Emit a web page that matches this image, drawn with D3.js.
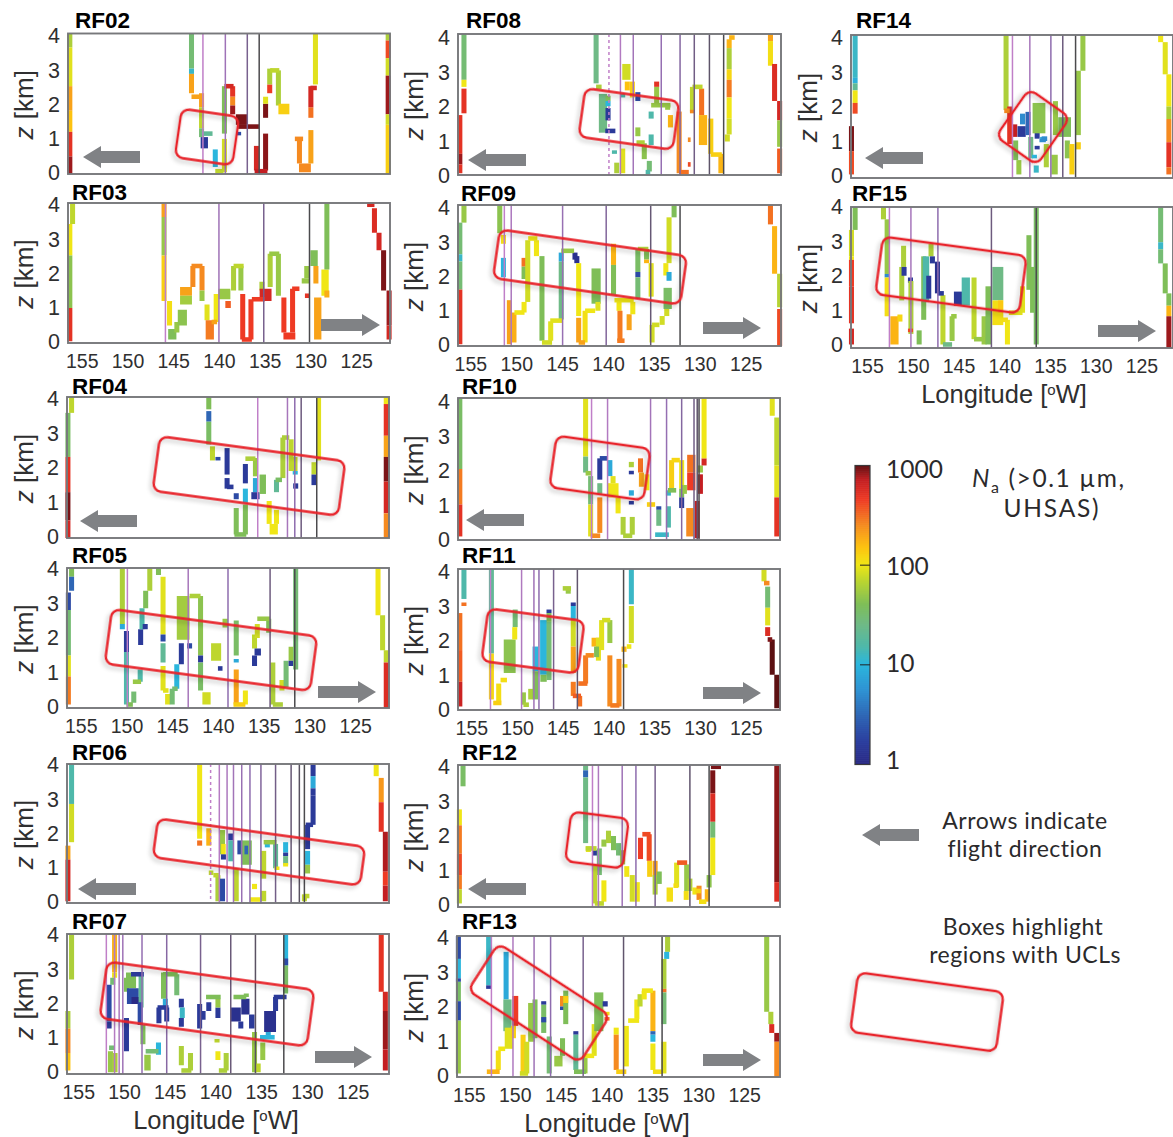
<!DOCTYPE html>
<html lang="en">
<head>
<meta charset="utf-8">
<title>UHSAS aerosol number, RF02-RF15</title>
<script src="https://d3js.org/d3.v7.min.js"></script>
<style>
body { margin: 0; background: #fff; }
text { font-family: "Liberation Sans", sans-serif; fill: #2f2f30; }
.legend-text { font-family: "Lato", sans-serif; fill: #2b2a2b; }
.tracks { filter: blur(0.45px); }
.box { fill: none; stroke: #e8232a; stroke-width: 2.4; filter: drop-shadow(-2px 3px 2px rgba(0,0,0,0.22)); }
</style>
</head>
<body>
<div id="chart"></div>
<script>
// vertical columns: [lon, zLo, zHi, Na, width in deg (optional)]
// horizontal legs:  [lonWest, lonEast, z, Na]
// sonde lines: longitudes of the vertical lines, west to east

var rf02Cols = [
    [156.3,3.6,4,60],[156.3,2.5,3.6,90],[156.3,1.8,2.5,200],[156.3,1.2,1.8,150],[156.3,.5,1.2,500],[156.3,0,.5,800],
    [143,3,4,30],[143,2.85,3,12],[143,2.3,2.85,200],
    [141.9,1.9,2.3,200],[141.9,1.3,1.9,70],[141.9,1.05,1.3,30],[141.6,.73,1.05,1.5,.8],
    [140.4,.2,.7,10],[139.4,.05,1,80],[139.4,1.15,2.5,40],
    [138.5,2.2,2.5,500],[138.5,1.95,2.2,250],[138.5,1.7,1.95,800],[137.5,1.4,1.7,900,1.3],[137.85,1.1,1.2,2],
    [135.9,.1,.8,600],[134.9,.1,1.15,850],[134.9,1.6,2,900],[134.9,2,2.2,90],
    [134.45,2.3,2.55,450],[134.45,2.55,3,60],[133.5,1.95,2.95,60],[132.9,1.7,2,130,1.2],
    [131.2,.3,1,250],[130.6,.05,.3,250,1.3],[129.95,.3,1.25,200],[129.95,1.6,1.9,300],[129.95,1.9,2.5,600],
    [129.45,2.55,4,90],
    [121.5,3.8,4,60],[121.5,3.3,3.8,400],[121.5,2.8,3.3,80],[121.5,1.7,2.8,800],[121.5,1.4,1.7,80],[121.5,0,1.4,130]
];
var rf02Rows = [
    [143,141.9,2.2,200],[141.9,140.7,1.15,20],[140.4,139.5,.08,70],[139.4,138.4,2.5,600],
    [137.9,135.6,1.35,900],[136.1,134.7,.08,700],[134.4,133.4,2.95,70],[131.7,130.8,1,250],[130,129.3,2.45,600]
];
var rf02Lines = [141.75,139.3,136.9,135.6];

var rf03Cols = [
    [156,3.4,4,70],[156.3,2.5,3.4,100],[156.3,1,2.5,45],[156.3,.05,1,500],
    [146,3.6,4,200],[146,2.5,3.6,50],[146,1.2,2.5,130],[145.4,.5,1.2,110],[145.1,.1,.4,40,.9],[144.6,.3,.6,50],
    [144,.5,.95,45,1],[143.6,1.35,1.6,200,1.3],[143.6,1.1,1.35,55,1.3],
    [142.85,1.6,2.2,250],[141.85,1.5,2.2,250],[141.85,1.2,1.5,50],[141.3,.65,1.1,90],[141,.1,.65,280,.9],
    [140.3,.6,1.4,100],[139.4,1.25,1.55,50,1.3],[139,1,1.2,350,.6],[138.4,1.5,2.2,60],[137.6,1.5,2.2,50],
    [137.4,.1,1.4,450],[136.5,.1,1.25,450],[135.3,1.5,1.75,60],[134.9,1.2,1.55,600,1.3],
    [134.4,1.6,2.55,60],[133.5,1.35,2.55,50],[132.9,.3,1.3,450],[132.3,.1,.3,450,1.3],[131.95,.3,1.55,450],
    [130.5,1.7,1.85,50,.9],[130.4,1.85,2.2,50],[129.6,2.2,2.65,40,.8],[129.4,1.7,2.2,200],[129.2,.1,1.3,200,.8],
    [128.4,1.35,2.1,100,.8],[128.2,1.3,1.5,180],[128.2,2.1,4,40],
    [123,3.15,3.85,550],[122.5,2.65,3.15,600],[122,1.5,2.65,900],[121.4,.5,1.5,800],[121.4,.1,.5,600]
];
var rf03Rows = [
    [123.8,123,3.95,600],[143,141.8,2.2,250],[140.8,140.2,.6,200],[138.4,137.3,2.2,70],[137.5,136.4,.1,450],
    [136.4,135,1.25,450],[134.5,133.4,2.55,50],[132,131.2,1.55,450],[130.6,130.1,1.35,500]
];
var rf03Lines = [145.85,140,135.1,130.1];

var rf04Cols = [
    [156,3.55,4,70],[156.4,2.3,3.55,35],[156.4,1.3,2.3,500],[156.4,.5,1.3,900],[156.4,0,.5,600],
    [141,3.65,4,40],[141,3.3,3.6,3],[141,2.65,3.3,35],[140.6,2.2,2.6,70],[140,2.2,2.3,2],
    [139,1.8,2.55,1.5],[139,1.4,1.7,1.5],[138,1.1,1.27,2],[138,.1,.85,40],
    [137,1.55,2.1,1.5],[137,1,1.4,10],[137,.1,.95,40],[135.9,1.75,2.27,50],[135.9,1.3,1.7,8],[135.9,1.1,1.3,1.5,.9],
    [135.1,1.25,1.8,40,.7],[134.4,.4,1.05,100],[133.9,.1,.4,100,.9],[133.6,.4,.8,100],[133.6,1.3,1.65,20],
    [132.9,1.7,2.85,60],[132,1.9,2.8,70],[131.7,1.9,2.3,70,.8],[131.55,1.8,1.9,10],[131.5,1.4,1.55,1.5],
    [129.5,1.8,2.15,70],[129.5,1.5,1.8,1.5],[129,2.2,4,90],
    [121.6,3.8,4,100],[121.6,2.9,3.8,500],[121.6,2.3,2.9,200],[121.6,1.6,2.3,900],[121.6,.7,1.6,600],[121.6,0,.7,250]
];
var rf04Rows = [
    [139,138.3,1.45,1.5],[138.2,136.9,.1,40],[137,135.9,2.25,60],[133.7,133,1.65,35],[133,132.2,2.85,60]
];
var rf04Lines = [135.65,132.4,131.6,130.9,129.2];

var rf05Cols = [
    [156,3.75,4,40],[156,3.35,3.75,3],[156.35,2.8,3.3,2],[156.35,1.5,2.8,30],[156.35,.9,1.5,90],[156.35,.1,.9,280],
    [150.45,2.4,4,60],[150.45,2.25,2.4,8],[150,1.6,2.2,1.5],[150,.1,1.6,15],[149.2,.15,.47,30],[148.5,.75,1.1,15],
    [148.45,1.8,2.25,1.5],[148.3,2.25,2.85,15],[147.95,2.25,2.4,1.5],[147.9,2.85,3.35,40],[147.45,3.35,4,60],
    [146.5,3.8,4,40],[146,2.1,3.75,90],[146,1.9,2.1,2],[146,1.3,1.85,20],[146,.5,1.2,90],[145.5,.1,.4,90],
    [145,.1,.55,30],[144.5,.55,1.25,10],[144,1.25,1.85,1.5],[143.8,1.95,3.2,55,1.4],[143.1,1.7,1.85,2],
    [141.9,1.5,3.2,45],[141.9,1.3,1.5,1.5],[141.9,.5,1.3,35],[141.25,.1,.45,80,.9],
    [140.2,1.35,1.85,70,1.1],[139.2,2.3,2.55,50,.6],[138,1.5,2.5,35],[138,1.3,1.4,8],[138,.1,1.1,200],[137,.1,.5,100],
    [136,1.7,2.1,70],[135.65,1.5,1.7,1.5,.7],[136,1.2,1.5,1.5],[135.7,2,2.4,80],[134.45,2.15,2.55,40],
    [134,.1,1.3,60],[133,.5,.8,80],[132.55,.6,1.35,30],[132,1.35,1.75,50],[132,1.2,1.35,1.5],[131.5,1.1,4,30],
    [122.5,2.65,4,100],[122,1.65,2.65,70],[121.6,1.3,1.65,70],[121.6,0,1.3,550]
];
var rf05Rows = [
    [150,149.3,.1,40],[149.3,148.4,.75,50],[146,145.4,.5,90],[145,144.4,.55,30],[143.1,141.9,3.2,60],
    [140,139.5,1.13,1.5],[138.3,137,.1,130],[135.7,134.3,2.55,50],[134,132.9,.1,60]
];
var rf05Lines = [149.9,143.25,138.9,134.3,131.6];

var rf06Cols = [
    [156,2.85,4,15],[156,1.75,2.85,80],[156.4,1.25,1.65,200],[156.4,.05,1.25,600],
    [142,1.85,4,100],[142,1.65,1.8,300],[141,1.65,2.15,170],[140,.05,.8,60],[139.5,.05,.7,2],[139.5,1.4,2.1,50],
    [139.4,1.4,1.7,100,.5],[139.4,1.25,1.4,1.5],[138.6,1.8,2,1.5],[138.6,1.2,1.8,15],[138,.05,1,70],
    [137.6,1.4,1.8,2],[136.9,1.1,1.8,40,1.2],[136.9,1.4,1.65,3,.4],[136,.4,.55,100],
    [135,.7,1.5,70],[135,.05,.35,70],[134.6,1.6,1.7,10],[133.7,1,1.7,20],[133.55,.95,1.05,100],
    [132.6,1.45,1.75,10],[132.6,1.35,1.45,1.5],[132.6,1.1,1.35,25],[132.6,1.05,1.15,100],
    [130.2,1.55,2.25,1.5],[130.2,1.1,1.5,10],[130.2,.85,1.1,50],[130.55,.05,.25,70],
    [129.6,3.65,4,1.5],[129.6,3.3,3.65,8],[129.6,3.1,3.3,1.5],[129.6,2.25,3.1,1.5],
    [122.7,3.65,4,100],[122.15,2.9,3.6,220],[122.15,2.05,2.9,500],[121.7,.9,2.05,750],[121.7,.5,.9,450],[121.7,.05,.5,700]
];
var rf06Rows = [
    [141,140.5,.87,70],[140.5,139.9,.8,70],[136.5,135.4,.1,100],[135,133.6,1.75,50],[130.55,130,.2,70],[130.4,129.6,2.25,1.5]
];
var rf06Lines = [140.8,139.85,139,138.3,137.4,136.5,135.3,133.7,132,131.1,130.55];

var rf07Cols = [
    [156,2.7,4,60],[156.4,1.3,1.8,60],[156.4,.6,1.3,250],[156.4,.1,.6,150],
    [151.3,2.9,4,170],[151.3,2.75,2.9,100],[151.5,2.55,2.75,30],[151.9,1.5,2.55,2],[151.9,1.3,1.5,1.5],
    [151.75,.05,.65,50],[151.25,.05,.6,60],[150,.65,1.6,1.5],[150,2.35,2.75,40],
    [149.5,2.45,2.9,40,1.1],[149.3,2,2.45,2,1.3],[149,2,2.2,1,.9],[148.4,1.9,2.8,20],[148.5,1.4,2.05,2],[148.2,.85,1.4,40],
    [147.7,.1,.55,50,.7],[146.5,.55,.9,10],[146.45,1.45,1.9,1.5],[145.6,1.5,1.9,1.5],[145.95,2.15,2.9,40],[145.75,1.9,2.15,8],
    [144.5,2.25,2.85,30],[144,1.9,2.15,1.5],[143.9,1.6,1.9,12],[144,1.35,1.6,1.5],[144,.25,.8,60],[143,.1,.6,60],
    [142,1.3,2,1.5],[141.7,1.55,1.8,1.5,.7],[141,1.8,2.05,1.5],[140,1.6,1.9,1.5],[140,1.9,2.15,50],[140,.4,.65,100],[140.1,.9,1,70],[139.1,.1,.6,60],
    [138.05,1.5,1.9,1.2,1.1],[137.5,1.3,1.5,1.5],[137,1.7,2.15,1.2,.9],[136.9,2.2,2.3,40],[136.3,1.3,1.7,1.5,.6],
    [136,.05,1.2,50],[135.6,.05,.3,70],[135.1,.4,.9,50],[134.3,1.2,1.8,1.2,1.3],[134.5,1,1.2,8],[133.7,1.8,2.2,1.5],
    [132.6,3.1,4,10],[132.6,3.1,3.3,2],[132.6,2.3,3.1,35],
    [122.15,2.35,4,500],[121.7,1.8,2.35,600],[121.7,.7,1.8,800],[121.7,.1,.7,700]
];
var rf07Rows = [
    [151.9,151.3,.75,30],[149.5,148.1,2.85,1.5],[147.9,146.5,.65,30],[146.6,145.4,1.9,1.5],[146,144.4,2.85,40],
    [144,142.9,.1,60],[141.3,139.7,2.2,40],[139.9,139,.1,60],[138.3,136.9,2.2,40],[135.4,133.8,1.05,10],[133.9,132.5,2.2,1.5]
];
var rf07Lines = [152.2,151.3,150.8,150.4,148.3,145.6,141.9,138.6,135.9,132.8];

var rf08Cols = [
    [155.7,2.7,4,30],[155.7,2.5,2.7,100],[155.7,1.75,2.45,500],[156.15,.6,1.7,500],[156.15,.3,.6,800],[156.15,.05,.3,500],
    [141.3,2.6,4,25],[140.55,1.2,2.3,25,.9],[140,1.55,1.9,1.5],[140,1.95,2.1,10],[140,2.1,2.25,40],
    [139.3,.6,.7,15],[139.05,.05,.35,60],[138.4,.05,.75,90],[138,2.7,3.15,80,.9],[137.9,2.4,2.65,150],[137.35,2.2,2.65,130],[138.4,2.2,2.3,15],
    [136.75,2.1,2.35,2],[136.75,1.1,1.35,50],[136.05,.45,.9,45],[135.5,.1,.4,30],
    [135.3,1.6,1.8,15],[135.3,.85,1.15,15],[134.7,2.5,2.65,500],[134.7,2,2.5,50],[133.5,1.85,2,50],[133.2,1.35,1.7,170],
    [132.25,.05,1.8,250],[130.8,1.8,2.5,70],[130.8,1.75,1.85,250],[129.8,1.7,2.45,300],[129.65,.85,1.7,170,.9],[128.8,.6,1.6,130],[127.7,.05,.6,170],
    [127,.95,1.15,80],[126.8,3.6,3.85,170],[126.8,3,3.6,60],[126.8,2.7,3,120],[126.8,2.2,2.7,280],[126.8,1.6,2.2,100],[126.8,1.15,1.6,80],
    [122.3,3.8,4,200],[122.3,3.1,3.8,110],[121.85,2.1,3.15,550],[121.3,1.55,2.1,600],[121.3,.8,1.55,50],[121.3,.05,.75,350]
];
var rf08Rows = [
    [141.3,140.7,2.5,60],[140.3,139.2,1.25,1.5],[136.9,136,.92,60],[135.9,135.4,.08,15],[135.3,133.2,1.98,50],
    [132.25,131.2,.08,300],[131.3,131,1,250],[131.3,131,.3,400],[130.8,129.7,2.5,70],[128.8,127.6,.58,130],[126.8,126.2,3.9,170]
];
var rf08Lines = [139.9,138.65,137.25,134.2,132.15,130.6,128.95,127.4];

var rf09Cols = [
    [155.7,3.5,4,50],[156.15,2.6,3.5,30],[156.15,2.4,2.6,12],[156.15,1.6,2.4,30],[156.15,.05,1.6,500],
    [151.8,3.2,4,45],[151.4,2.9,3.15,110],[151.4,1.95,2.5,10],[150.75,.05,1.3,200],[150.25,.1,.95,180],
    [149.15,2.25,2.5,300],[149.15,1.9,2.25,40],[149.15,.95,1.25,100],[148.75,1.25,3,80],[147.8,2.55,3,100],[147.2,.15,2.55,40],
    [146.25,.15,.7,90],[145.1,.75,2.4,25],[145.1,2.4,2.65,8],[143.6,2.45,2.65,1.2],[143.4,2.35,2.55,1.2],
    [143.2,.85,2.35,100],[143.2,.1,.8,200],[142.5,.1,1,110],[141.3,1.2,2.2,40,1],[141.1,1,1.25,90],
    [139.4,2.3,2.9,170],[139.4,1.45,2.3,40],[138.8,1,1.35,100],[138.7,.15,1,280],[137.7,.45,.9,200],[137.3,.9,1.25,100],
    [136.75,2.1,2.75,35],[136.75,1.95,2.1,2],[136.75,1.35,1.95,30],[135.8,2.45,2.75,40],[135.8,2.35,2.45,170],
    [135.3,1.4,2.35,90],[135.2,.1,.6,80],[134.1,.6,.85,80],[133.6,.85,1.1,80],[133.5,1.05,1.65,35,.9],[133.7,2,2.35,100],
    [133.35,1.85,2.1,8],[133.35,2.35,3.65,80],[132.8,3.65,4,40],
    [122.3,3.45,4,300],[121.85,2.05,3.4,170],[121.3,1.1,2.05,65],[121.3,0,1.05,400]
];
var rf09Rows = [
    [150.2,149.1,.95,100],[148.7,147.7,3.05,100],[147.2,146.1,.1,80],[146.3,145,.72,90],[145.1,143.7,2.7,50],
    [143.2,142.5,.1,200],[142.5,141.4,1,100],[139,138.2,.15,280],[139.3,137.2,1.3,100],[136.75,135.6,2.75,60],[135.2,134.4,.6,80]
];
var rf09Lines = [151.3,150.55,144.95,140.2,135.35,132.15];

var rf10Cols = [
    [156.15,2,4,35],[156.15,1,2,280],[156.15,.1,1,500],
    [142.4,2.35,4,90],[142.4,1.9,2.35,25],[141.85,1,1.8,30],[141.85,.1,1,90],
    [140.85,1.7,2.3,1.5],[140.85,1.3,1.6,25],[140.85,.2,1.2,250],[139.75,1.8,2.25,8],[139.4,1.2,1.6,100,1.2],[139.4,1.6,1.8,90],
    [138.85,.75,1.2,100],[138.3,.15,.65,60],[137.3,.15,.65,60],[137.4,2.05,2.2,60],[137.4,1.85,1.95,1.5],[137.4,1.25,1.4,8],[137.4,1,1.1,1.5],
    [136.4,1.9,2.3,300],[136.3,1.5,1.9,200],[135.7,1.4,1.85,100],[134.4,.85,.95,2],[134.4,.4,.85,25],[133.35,.35,.95,15],[133.35,1.25,1.4,12],
    [133,1.4,2.25,130],[131.9,1.45,2.25,100],[131.9,1.2,1.45,40],[131.9,.9,1.2,1.5],[131.6,1.3,1.55,50],
    [130.85,1.9,2.4,300,.9],[130.85,1.4,1.9,450,.9],[131,.1,.9,250,.8],[130.2,.05,1.1,700],[129.85,1.3,1.85,700],[129.85,1.9,2.1,50],
    [129.45,2.1,2.3,600],[129.45,2.3,4,100],
    [122,3.5,4,90],[121.5,2.1,3.45,70],[121.5,1.2,2.1,90],[121.5,.1,1.2,500]
];
var rf10Rows = [
    [142.4,141.7,1.88,50],[141.85,140.8,.12,250],[140.85,140,2.3,2],[138.3,137.3,.12,60],[135.7,134.8,1,130],[134.8,133.3,.15,12],[133.4,132.5,1.4,40],[133,132.1,2.25,120]
];
var rf10Lines = [141.75,140,135.3,133.55,131.9,130.55,130.2,130];

var rf11Cols = [
    [155.7,3.15,4,15],[155.7,2.95,3.05,300],[156.15,1.7,2.75,300],[156.15,.8,1.7,350],[156.15,.1,.8,650],
    [152.7,1.6,4,20],[152.7,.3,1.6,120],[151.9,.25,.75,110],[150.7,1.05,2,45,1.3],[150.1,2.35,2.85,30],[150.15,2,2.35,100],
    [149.2,.15,.5,50],[148.4,.3,.6,60],[147.9,1.1,1.8,10,.6],[147.9,.3,1.1,40,.6],
    [147,1,2.55,10,.75],[146.4,.85,2.5,30,.55],[147,.8,1,40,.7],[146.4,2.75,2.85,1.5],[146.4,2.5,2.75,40],
    [144.3,3.3,3.45,50],[143.75,2.95,3.05,1.5],[143.75,2.55,2.95,10],[143.75,1.8,2.55,80],[143.75,1.05,1.8,200],[143.75,.4,.8,280],
    [143.05,.1,.4,300],[142.4,.75,1.55,280],[141.3,1.8,2.05,170,.9],[141,1.4,2.05,90],[141.2,1.5,1.8,40],
    [140.65,1.7,2.55,90],[139.75,1.9,2.55,50],[139.75,.1,1.55,250],[138.75,.1,1.45,250],[138.1,1.2,1.3,100],[138.2,1.65,1.8,170],
    [137.4,1.9,2.95,80],[137.4,3,4,12],
    [122.9,3.65,4,80],[122.5,2.9,3.5,30],[122.5,2.4,2.9,90],[122.5,2.1,2.35,550],[122,1,2,1000],[121.5,.05,1,1000]
];
var rf11Rows = [
    [152.5,151.6,.2,130],[151.7,151,.85,110],[149.2,148.6,.15,60],[144.9,144,3.45,60],[143.8,142.9,.4,350],
    [143.2,142.2,.75,300],[142.4,141.5,1.55,250],[140.6,139.7,2.55,80],[139.7,138.7,.13,280],[137.9,137.4,1.8,100],[122.9,122.3,3.6,250],[122.5,122,2,900]
];
var rf11Lines = [152.8,149.4,148.05,147.5,145.9,143.3,138.25];

var rf12Cols = [
    [155.8,3.4,4,35],[156.2,2.3,2.75,100],[156.2,1.5,2.3,280],[156.2,.9,1.5,400],[156.2,.5,.9,280],[156.2,.1,.5,70],
    [142.4,3.85,4,25],[142.4,3.65,3.85,3],[142.4,1.8,3.65,25],[142.1,1.55,1.7,90],[141.35,1.45,1.6,1.5],
    [140.9,.9,1.65,30],[141.4,.1,1.2,70],[140.4,.15,.75,100],[140.4,1.7,1.9,50],[139.9,1.8,2.15,60],[139.35,1.6,2,40],[138.8,1.45,1.8,30],[138.35,1.2,1.6,50],
    [137.9,.85,1.15,100],[137.3,.15,.9,80],[136.75,.15,.7,100],[136.4,1.35,1.95,450],[135.45,1.3,2.05,400],[134.8,.85,1.3,200],[135.4,.85,1.3,130],
    [134.8,.35,.9,60],[134.35,.65,1,40],[133.2,.15,.55,110,.7],[132.45,.55,1.25,90],[131.35,.45,1.2,50],[131.4,.2,.45,110],[131,.45,.8,60],
    [130.45,.35,.55,100],[130,.2,.6,250],[129.1,.15,.5,170],[128.9,.55,.9,45],
    [128.5,3.2,3.85,900],[128.5,2.4,3.2,550],[128.5,1.95,2.4,30],[128.5,.9,1.95,100],
    [121.5,.7,4,850],[121.5,.15,.7,550]
];
var rf12Rows = [
    [142.4,141.2,1.65,70],[141.4,140.4,.1,70],[136.2,135.3,2.05,400],[132.8,132.3,.6,110],[132.4,131.3,1.25,350],[130.4,129.8,.45,120],[130,129.2,.15,110],[128.7,127.6,3.95,900]
];
var rf12Lines = [141.65,141,138.4,136.9,134.8,131,128.9];

var rf13Cols = [
    [156.2,3.35,4,2],[156.2,2.8,3.35,10],[156.2,2.7,2.8,2],[156.2,2.15,2.7,35],[156.2,1.6,2.15,2],[156.2,.1,1.6,50],
    [152.9,2.6,4,12],[152.9,2.5,2.6,1.5],[151.85,.2,.75,110],[151,2.2,3.55,8],[150.85,1.3,2.2,25,.9],[150.7,.8,1.4,90,.9],
    [150,1.45,2.3,450,.65],[150.2,1.1,1.45,130],[149.15,.1,1.2,130],[148.75,.1,1,80],[148.25,1,2.1,50,.7],[147.85,1.1,2.2,40],
    [146.9,2.05,2.15,1.5],[146.9,1.25,2.05,35],[146.9,1.55,1.7,2],[146.3,.1,1.15,30],[145.3,.3,.6,50,.9],[144.85,.6,1.1,40],
    [144.85,2.0,2.3,250],[144.85,1.9,2,2],[144.5,1.5,2.45,40],[144.5,2.1,2.3,130],[143.4,1.2,1.3,1.5],[143.4,.2,1.2,20],
    [142.4,.1,.6,50],[141.4,.6,1.5,90],[140.9,1.3,2.4,40,1],[140.2,2,2.15,1.5],[140,1.75,1.85,110],[140,1.6,1.7,300],
    [139,1.2,1.4,100],[139,.2,1.2,250],[137.9,.3,1.45,100],[136.75,1.65,2.2,100],[136.4,2,2.35,70],[135.95,2.2,2.45,100],
    [135,1.3,2.45,170],[135,1.2,1.3,3],[135,1,1.2,10],[135,.2,.95,100],
    [133.4,3.55,4,60],[133.5,3.35,3.55,10],[133.8,2.5,3.35,60],[133.8,2.4,2.5,300],[133.8,1.5,2.4,30],[133.8,.1,1,90],
    [122.6,1.85,4,50],[122.15,1.5,1.85,60],[122.05,1.25,1.5,550],[121.5,1,1.25,800],[121.5,0,1,250]
];
var rf13Rows = [
    [153.1,151.7,.15,170],[151.85,151.1,.8,100],[149.5,148.6,.1,80],[143.6,142.3,.15,40],[142.4,141.4,.6,100],[139,137.9,.15,130],
    [137.7,136.5,1.6,100],[136.2,135,2.45,100],[135,134,.15,110]
];
var rf13Lines = [152.6,150.25,147.95,146.15,142.6,138.2,134];

var rf14Cols = [
    [156.3,2.8,4,12],[156.3,2.65,2.8,9],[156.3,2.45,2.65,20],[156.3,2.1,2.45,100],[156.3,1.8,2.1,400],[156.7,.75,1.45,900],[156.7,.1,.75,400],
    [139.8,1.9,4,60],[139.4,.95,2,500],[138.85,1.15,1.5,700],[138.75,.5,1.05,40],[138.4,.1,.5,50],[138.1,1.15,1.45,1.5,.9],
    [137.4,1.2,1.85,3],[138,1.5,1.8,5],[136.4,1.1,1.4,1.5],[136.2,1.25,2.1,45,1.4],[135.8,1.05,1.15,8],[135.8,1,1.1,5,.7],[136.4,.8,.9,1.5],
    [137.1,.55,1.15,25],[136.7,.55,.65,10],[136.5,.15,.35,12],[135.4,.3,.95,60],[134.4,1.2,2.15,50],[134.5,.1,.65,50,.7],
    [133.4,1.15,1.7,40,1.4],[133.1,.55,1.05,45],[132.6,.1,.95,130],[131.9,1.2,3,50],[131.9,.8,1,130],[131.4,3,4,50],
    [122.9,3.8,4,100],[122.4,2.9,3.8,90],[122,2,2.9,100],[122,1.65,2,60],[122,1,1.65,250],[122,.3,1,500],[122,.1,.3,300]
];
var rf14Rows = [[140,139.4,1.88,250],[135.9,135.3,1.1,5]];
var rf14Lines = [139.1,137.2,134.9,133.6,132.2];

var rf15Cols = [
    [156.3,3.35,4,40],[156.7,2.6,3.35,80],[156.7,2.5,2.6,100],[156.7,1.75,2.5,450],[156.7,.7,1.75,500],[156.7,.1,.55,600],
    [153.2,3.65,4,60],[152.8,2.1,3.65,50],[152.8,2,2.1,5],[152.8,.9,2,110],[152,.1,.9,170,.9],[151.4,.75,.95,120],
    [151,2.3,2.9,60],[151.2,1.35,2.3,60],[150.95,2.05,2.3,1.5],[150.25,1.85,2,1.5],[150.2,.4,1.9,60],[150.25,.45,.55,400],[149.3,.1,.5,40],
    [148.8,.8,2.6,40],[148.55,1.3,2.6,15,.7],[148.25,1.4,2.05,1.5],[148,2.6,2.95,60],[147.85,2.4,2.6,1.5],
    [147.3,1.55,2.45,1.2],[146.7,.1,1.5,70],[145.7,.2,.9,50],[144.9,1.2,1.6,1.5,1.2],[144.2,1.2,2,15,.9],[143.3,.25,2,70],
    [142.2,.1,.9,50],[141.7,.1,1.75,40,.7],[140.7,1.35,2.3,25,1.2],[140.7,.65,1.35,110,1.2],[140.4,1,1.35,140],[139.65,.1,.8,100],
    [138,1,1.75,90],[137.3,1.65,3.2,40],[136.9,1,2.3,40],[136.5,.1,4,35],
    [122.9,3,4,30],[122.9,2.8,3,12],[122.9,2.4,2.8,30],[122.4,1.55,2.4,40],[122,1.2,1.55,40],[122,.9,1.2,170],[122,0,.9,800]
];
var rf15Rows = [[147.3,146.6,1.55,1.5],[146.7,145.7,.1,25],[145.8,145.2,.9,50],[143.3,142.1,.25,50],[140.2,139.6,.8,110],[139.5,138,1,90]];
var rf15Lines = [152.55,150.2,147.25,141.4,136.5];

var flightNames = ["RF02","RF03","RF04","RF05","RF06","RF07","RF08","RF09","RF10","RF11","RF12","RF13","RF14","RF15"];
var flightCols = [rf02Cols,rf03Cols,rf04Cols,rf05Cols,rf06Cols,rf07Cols,rf08Cols,rf09Cols,rf10Cols,rf11Cols,rf12Cols,rf13Cols,rf14Cols,rf15Cols];
var flightRows = [rf02Rows,rf03Rows,rf04Rows,rf05Rows,rf06Rows,rf07Rows,rf08Rows,rf09Rows,rf10Rows,rf11Rows,rf12Rows,rf13Rows,rf14Rows,rf15Rows];
var flightLines = [rf02Lines,rf03Lines,rf04Lines,rf05Lines,rf06Lines,rf07Lines,rf08Lines,rf09Lines,rf10Lines,rf11Lines,rf12Lines,rf13Lines,rf14Lines,rf15Lines];
var dashedFirst = ["RF06","RF08"];

var zTicks = [0,1,2,3,4];
var lonTicks = [155,150,145,140,135,130,125];
var naTicks = [1000,100,10,1];

// colour stops
var naStops = [1,1.7,3,5.5,10,15,25,40,70,100,150,250,450,700,1000];
var naColors = ["#2a2a85","#2b3f9f","#2f66b5","#2f93d3","#2bb6dd","#4fb8aa","#6fba86","#7fbe58","#bed62e","#f0e616","#fdc210","#f58a20","#ee3a24","#c41e22","#5c1012"];

// page layout (pixels): name, left, right, top, bottom, tick "4" y, tick "0" y, z title x, title x, title baseline, lon tick shift
var layout = [
    ["RF02",68,390,33.5,174,36,173,25,75,28,0],
    ["RF03",68,390,203,343,205,342,25,72,200,0],
    ["RF04",67,389,397,538,399,537,25,72,394,0],
    ["RF05",67,389,568,708,569,707,25,72,563,0],
    ["RF06",67,389,764,903,765,902,25,72,760,0],
    ["RF07",67,389,934,1074,935,1072,25,72,929,-2.5],
    ["RF08",458,781,34,175,38,176,415,466,28,0],
    ["RF09",458,781,205,346,208,345,415,461,201,0],
    ["RF10",458,780,398,540,402,540,415,462,394,0],
    ["RF11",458,780,569,710,572,710,415,462,563,1],
    ["RF12",458,780,765,907,767,905,415,462,760,0],
    ["RF13",457,780,936,1077,938,1076,415,462,929,-0.5],
    ["RF14",851,1173,35,178,38,176,809,856,28,0],
    ["RF15",851,1173,207,348,207,345,809,852,201,0]
];
var lonLeftByCol = {68:156.5,67:156.5,458:156.35,457:156.35,851:156.75};
var xTitles = [[216,1129],[607,1132],[1004,403]];

// highlight boxes: centre x, centre y, width, height, angle
var boxes = [
    [207,137,58,49,8.2],[249,476,187,55,7.7],[211,650,207,55,7.6],[259,852,209,39,7.8],[207,1004,209,57,7.8],
    [629,119,95,49,8],[590,267,189,49,8.1],[600,468,95,52,8],[533,641,97,53,7.5],[597,840,58,50,7.3],[539,1003,133,56,32.9],
    [1033,127,50,58,35],[951,275,145,58,7.7],[927,1012,147,60,7.8]
];
// flight direction arrows: tip x, tail x, y
var arrows = [
    [83,140,157],[380,321,325],[80,137,521],[376,318,692],[78,136,889],[372,315,1057],
    [468,526,160],[761,703,328],[466,524,520],[761,703,693],[468,526,889],[761,703,1060],
    [865,923,158],[1156,1098,331],[862,919,835]
];

var width = 1173;
var height = 1137;

var svg = d3.select("#chart").append("svg")
    .attr("width", width)
    .attr("height", height)
    .style("display", "block");

var color = d3.scaleLog().domain(naStops).range(naColors).interpolate(d3.interpolateRgb);

var lineColor = d3.scaleLinear().domain([0, 0.5, 1]).range(["#c07fc8", "#8e6cae", "#4b4a4d"]);

layout.forEach(function (p) {
    var i = flightNames.indexOf(p[0]);
    var left = p[1], right = p[2], top = p[3], bottom = p[4];

    var x = d3.scaleLinear().domain([lonLeftByCol[left], lonLeftByCol[left] - 35.2]).range([left, right]);
    var y = d3.scaleLinear().domain([0, 4]).range([bottom, top]);
    var yLabel = d3.scaleLinear().domain([0, 4]).range([p[6], p[5]]);

    var g = svg.append("g");
    var tracks = g.append("g").attr("class", "tracks");

    // columns of the stepped flight track
    tracks.selectAll("rect.col")
        .data(flightCols[i])
        .join("rect")
        .attr("class", "col")
        .attr("x", function (d) { return x(d[0] + (d[4] || 0.55) / 2); })
        .attr("width", function (d) { return x(d[0] - (d[4] || 0.55) / 2) - x(d[0] + (d[4] || 0.55) / 2); })
        .attr("y", function (d) { return y(d[2]); })
        .attr("height", function (d) { return y(d[1]) - y(d[2]); })
        .attr("fill", function (d) { return color(d[3]); });

    // horizontal legs
    tracks.selectAll("rect.row")
        .data(flightRows[i])
        .join("rect")
        .attr("class", "row")
        .attr("x", function (d) { return x(d[0]); })
        .attr("width", function (d) { return x(d[1]) - x(d[0]); })
        .attr("y", function (d) { return y(d[2] + 0.065); })
        .attr("height", function (d) { return y(0) - y(0.13); })
        .attr("fill", function (d) { return color(d[3]); });

    // sonde lines, colour runs from pink to dark along the panel
    var lines = flightLines[i];
    g.selectAll("line.sonde")
        .data(lines)
        .join("line")
        .attr("class", "sonde")
        .attr("x1", function (d) { return x(d); })
        .attr("x2", function (d) { return x(d); })
        .attr("y1", top)
        .attr("y2", bottom)
        .attr("stroke", function (d, j) { return lineColor(j / (lines.length - 1)); })
        .attr("stroke-width", 1.5)
        .attr("stroke-dasharray", function (d, j) {
            return (j === 0 && dashedFirst.indexOf(p[0]) >= 0) ? "3,3" : null;
        });

    g.append("rect")
        .attr("x", left).attr("y", top)
        .attr("width", right - left).attr("height", bottom - top)
        .attr("fill", "none")
        .attr("stroke", "#77787b")
        .attr("stroke-width", 1.9);

    var zAxis = g.append("g")
        .attr("transform", "translate(" + (left - 1) + ",0)")
        .call(d3.axisLeft(yLabel).tickValues(zTicks).tickFormat(d3.format("d")).tickSize(0).tickPadding(7));
    zAxis.select(".domain").remove();
    zAxis.selectAll("text").style("font-size", "21.5px").attr("fill", "#2f2f30");

    // lon labels only on the bottom panel of each block
    if (["RF03","RF05","RF07","RF09","RF11","RF13","RF15"].indexOf(p[0]) >= 0) {
        var lonAxis = g.append("g")
            .attr("transform", "translate(" + p[10] + "," + bottom + ")")
            .call(d3.axisBottom(x).tickValues(lonTicks).tickFormat(d3.format("d")).tickSize(0).tickPadding(11));
        lonAxis.select(".domain").remove();
        lonAxis.selectAll("text").style("font-size", "19.5px").attr("fill", "#2f2f30");
    }

    var zt = g.append("text")
        .attr("transform", "translate(" + (p[7] + 8) + "," + ((top + bottom) / 2 + 1) + ") rotate(-90)")
        .attr("text-anchor", "middle")
        .style("font-size", "26px");
    zt.append("tspan").style("font-style", "italic").text("z");
    zt.append("tspan").text(" [km]");

    g.append("text")
        .attr("x", p[8]).attr("y", p[9])
        .style("font-size", "22.5px")
        .style("font-weight", "bold")
        .attr("fill", "#000")
        .style("fill", "#000")
        .text(p[0]);
});

xTitles.forEach(function (t) {
    var lab = svg.append("text")
        .attr("x", t[0]).attr("y", t[1])
        .attr("text-anchor", "middle")
        .style("font-size", "25.5px");
    lab.append("tspan").text("Longitude [");
    lab.append("tspan").attr("dy", -8).style("font-size", "15px").text("o");
    lab.append("tspan").attr("dy", 8).text("W]");
});

svg.selectAll("rect.box")
    .data(boxes)
    .join("rect")
    .attr("class", "box")
    .attr("x", function (d) { return -d[2] / 2; })
    .attr("y", function (d) { return -d[3] / 2; })
    .attr("width", function (d) { return d[2]; })
    .attr("height", function (d) { return d[3]; })
    .attr("rx", 8)
    .attr("transform", function (d) { return "translate(" + d[0] + "," + d[1] + ") rotate(" + d[4] + ")"; });

// arrow outline built from tip, tail and the midline
svg.selectAll("path.arrow")
    .data(arrows)
    .join("path")
    .attr("class", "arrow")
    .attr("fill", "#808285")
    .attr("d", function (d) {
        var dir = d[1] > d[0] ? 1 : -1;
        var neck = d[0] + dir * 18;
        return "M" + d[0] + "," + d[2] +
            "L" + neck + "," + (d[2] - 11) +
            "L" + neck + "," + (d[2] - 6) +
            "L" + d[1] + "," + (d[2] - 6) +
            "L" + d[1] + "," + (d[2] + 6) +
            "L" + neck + "," + (d[2] + 6) +
            "L" + neck + "," + (d[2] + 11) + "Z";
    });

// colour bar
var barY = d3.scaleLog().domain([1, 1000]).range([764.5, 465.5]);
var barLabelY = d3.scaleLog().domain([1, 1000]).range([760, 469]);
var barSteps = d3.range(0, 150).map(function (k) { return Math.pow(10, 3 * k / 150); });
svg.append("g").selectAll("rect")
    .data(barSteps)
    .join("rect")
    .attr("x", 855).attr("width", 15)
    .attr("y", function (d) { return barY(d) - 2.2; })
    .attr("height", 2.6)
    .attr("fill", function (d) { return color(d); });
svg.append("rect")
    .attr("x", 855).attr("y", 465.5)
    .attr("width", 15).attr("height", 299)
    .attr("fill", "none").attr("stroke", "#3a3a3c").attr("stroke-width", 1.2);
svg.append("g").selectAll("line")
    .data([100, 10])
    .join("line")
    .attr("x1", 860).attr("x2", 870)
    .attr("y1", function (d) { return barY(d); })
    .attr("y2", function (d) { return barY(d); })
    .attr("stroke", "#222");
svg.append("g").selectAll("text")
    .data(naTicks)
    .join("text")
    .attr("class", "legend-text")
    .attr("x", 886)
    .attr("y", function (d) { return barLabelY(d); })
    .attr("dy", "0.35em")
    .style("font-size", "24.5px")
    .text(function (d) { return d; });

var na = svg.append("text")
    .attr("class", "legend-text")
    .attr("x", 972).attr("y", 487)
    .style("font-size", "24.5px")
    .style("letter-spacing", "1.6px");
na.append("tspan").style("font-style", "italic").text("N");
na.append("tspan").attr("dy", 6).style("font-size", "16px").text("a");
na.append("tspan").attr("dy", -6).text(" (>0.1 \u00b5m,");
svg.append("text")
    .attr("class", "legend-text")
    .attr("x", 1052).attr("y", 517)
    .attr("text-anchor", "middle")
    .style("font-size", "24.5px")
    .style("letter-spacing", "1.8px")
    .text("UHSAS)");

var notes = [
    ["Arrows indicate", 1025, 829],
    ["flight direction", 1025, 857],
    ["Boxes highlight", 1023, 935],
    ["regions with UCLs", 1025, 963]
];
svg.append("g").selectAll("text")
    .data(notes)
    .join("text")
    .attr("class", "legend-text")
    .attr("x", function (d) { return d[1]; })
    .attr("y", function (d) { return d[2]; })
    .attr("text-anchor", "middle")
    .style("font-size", "23px")
    .style("letter-spacing", "0.5px")
    .text(function (d) { return d[0]; });
</script>
</body>
</html>
